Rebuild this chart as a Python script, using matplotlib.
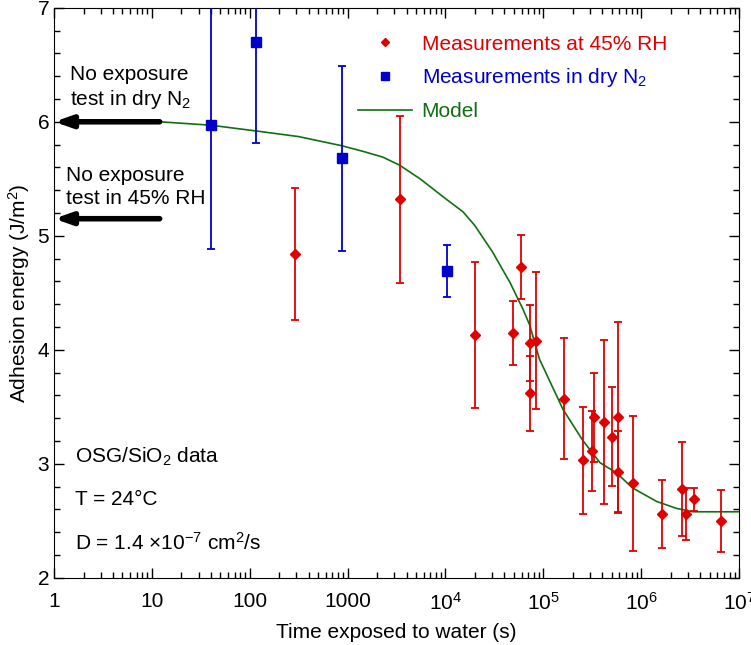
import numpy as np
import matplotlib
matplotlib.use("Agg")
import matplotlib.pyplot as plt
from matplotlib.lines import Line2D

plt.rcParams['font.family'] = ['Liberation Sans', 'DejaVu Sans']
plt.rcParams['mathtext.default'] = 'regular'

# --- data ---
rh_time = [290, 3400, 20000, 48600, 59000, 73000, 73000, 84000, 162000, 253000,
           317000, 330000, 415000, 500000, 577000, 577000, 830000, 1.62e6,
           2.6e6, 2.85e6, 3.5e6, 6.5e6]
rh_energy = [4.84, 5.32, 4.13, 4.15, 4.73, 4.06, 3.62, 4.08, 3.57, 3.03,
             3.11, 3.41, 3.37, 3.24, 3.41, 2.93, 2.83, 2.56,
             2.78, 2.56, 2.69, 2.50]
rh_err = [0.58, 0.73, 0.64, 0.28, 0.28, 0.33, 0.33, 0.60, 0.53, 0.47,
          0.35, 0.39, 0.72, 0.43, 0.83, 0.36, 0.59, 0.30,
          0.41, 0.23, 0.10, 0.27]

n2_time = [40, 115, 870, 10300]
n2_energy = [5.97, 6.70, 5.68, 4.69]
n2_err = [1.09, 0.89, 0.81, 0.23]

model_logt = [1.08, 1.60, 2.06, 2.50, 2.94, 3.16, 3.36, 3.53, 3.74, 4.01, 4.18,
              4.30, 4.48, 4.66, 4.79, 4.86, 4.96, 5.08, 5.20, 5.40, 5.58, 5.75,
              5.91, 6.16, 6.36, 6.53, 7.0]
model_energy = [6.00, 5.97, 5.92, 5.87, 5.79, 5.74, 5.69, 5.62, 5.50, 5.32, 5.21,
                5.09, 4.86, 4.59, 4.36, 4.22, 3.92, 3.70, 3.48, 3.21, 3.01, 2.92,
                2.79, 2.67, 2.61, 2.58, 2.58]

baseline_n2 = 6.0
baseline_rh = 5.15

xtick_vals = [1, 10, 100, 1000, 1e4, 1e5, 1e6, 1e7]
xtick_labels = ['1', '10', '100', '1000', '$10^4$', '$10^5$', '$10^6$', '$10^7$']

RED = '#e00000'
BLUE = '#0000cc'
GREEN = '#107010'

fig = plt.figure(figsize=(7.51, 6.45), dpi=100)
ax = fig.add_axes([0.072, 0.104, 0.912, 0.884])

ax.errorbar(rh_time, rh_energy, yerr=rh_err, fmt='D', color=RED,
            ms=5.2, elinewidth=1.3, capsize=3.2, capthick=1.3, zorder=3)
ax.errorbar(n2_time, n2_energy, yerr=n2_err, fmt='s', color=BLUE,
            ms=6.8, elinewidth=1.3, capsize=3.2, capthick=1.3, zorder=3)
ax.plot(10 ** np.array(model_logt), model_energy, color=GREEN, lw=1.2, zorder=2)

# arrows for the no-exposure tests
for yv in (baseline_n2, baseline_rh):
    ax.annotate('', xy=(1.0, yv), xytext=(12, yv),
                arrowprops=dict(arrowstyle='-|>,head_length=1.0,head_width=0.35',
                                color='black', lw=4, shrinkA=0, shrinkB=0))

ax.text(1.46, 6.50, 'No exposure\ntest in dry N$_2$', fontsize=15,
        va='top', ha='left', linespacing=1.25)
ax.text(1.32, 5.61, 'No exposure\ntest in 45% RH', fontsize=15,
        va='top', ha='left', linespacing=1.25)

ax.text(1.62, 3.06, 'OSG/SiO$_2$ data', fontsize=15, va='center')
ax.text(1.62, 2.69, 'T = 24°C', fontsize=15, va='center')
ax.text(1.62, 2.31, 'D = 1.4 ×10$^{-7}$ cm$^2$/s', fontsize=15, va='center')

ax.set_xscale('log')
ax.set_xlim(1, 1e7)
ax.set_ylim(2, 7)
ax.set_xticks(xtick_vals)
ax.set_xticklabels(xtick_labels)
ax.set_yticks([2, 3, 4, 5, 6, 7])
ax.set_yticks(np.arange(2, 7.01, 0.2), minor=True)
ax.tick_params(which='both', direction='in', top=True, right=True, labelsize=15)
ax.tick_params(which='major', length=7, width=1)
ax.tick_params(which='minor', length=4, width=1)
ax.tick_params(axis='x', pad=10)

ax.set_xlabel('Time exposed to water (s)', fontsize=15, labelpad=7)
ax.set_ylabel('Adhesion energy (J/m$^2$)', fontsize=15, labelpad=4)

handles = [
    Line2D([], [], ls='none', marker='D', ms=4, color=RED),
    Line2D([], [], ls='none', marker='s', ms=5.5, color=BLUE),
    Line2D([], [], color=GREEN, lw=1.2),
]
labels = ['Measurements at 45% RH', 'Measurements in dry N$_2$', 'Model']
leg = ax.legend(handles, labels, loc='upper left', frameon=False, fontsize=15,
                handlelength=2.6, handletextpad=0.45, labelspacing=0.62,
                borderpad=0, borderaxespad=0, bbox_to_anchor=(0.444, 0.953))
for txt, c in zip(leg.get_texts(), [RED, BLUE, GREEN]):
    txt.set_color(c)

fig.savefig('out.png', dpi=100)
